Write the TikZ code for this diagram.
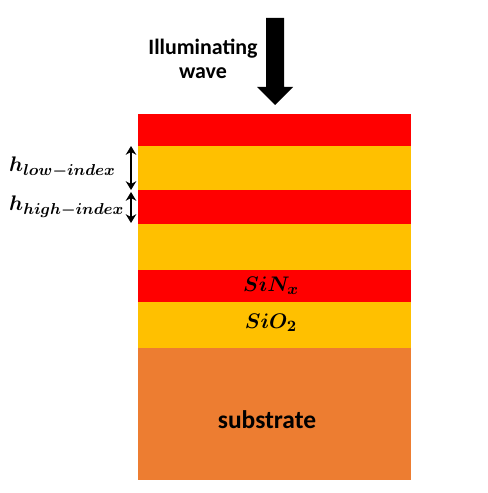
\documentclass[tikz,border=0pt]{standalone}
\usepackage{amsmath,bm}
\usepackage{fontspec}
\setmainfont{Carlito}
\usetikzlibrary{arrows.meta}
\definecolor{layerred}{HTML}{FF0000}
\definecolor{layeryellow}{HTML}{FFC000}
\definecolor{substrate}{HTML}{ED7D31}
\begin{document}
\begin{tikzpicture}[x=0.02cm,y=-0.02cm,>=Stealth,
  thick arrow/.style={<->,line width=1.2pt,>={Stealth[length=5pt,width=6pt]}},
  lbl/.style={font=\bfseries\fontsize{12.5}{14}\selectfont,align=center}]
\useasboundingbox (0,0) rectangle (487,493);
% stack of layers
\fill[layerred]    (138,114) rectangle (411,146);
\fill[layeryellow] (138,146) rectangle (411,190);
\fill[layerred]    (138,190) rectangle (411,224);
\fill[layeryellow] (138,224) rectangle (411,270);
\fill[layerred]    (138,270) rectangle (411,302);
\fill[layeryellow] (138,302) rectangle (411,348);
\fill[substrate]   (138,348) rectangle (411,480);
% incident wave
\fill[black] (266,18) -- (284,18) -- (284,87) -- (293,87) -- (275,105)
             -- (257,87) -- (266,87) -- cycle;
\node[lbl] (wave) at (203,59) {Illuminating\\wave};
% thickness markers
\coordinate (lowtop) at (131,146);
\coordinate (lowbot) at (131,190);
\coordinate (hightop) at (131,192);
\coordinate (highbot) at (131,223);
\draw[thick arrow] (lowtop) -- (lowbot);
\draw[thick arrow] (hightop) -- (highbot);
\node[anchor=west,font=\fontsize{13}{15}\selectfont] (hlow) at (3,167) {$\bm{h_{low-index}}$};
\node[anchor=west,font=\fontsize{13}{15}\selectfont] (hhigh) at (3,207) {$\bm{h_{high-index}}$};
% layer names
\node[font=\fontsize{12.5}{15}\selectfont] (sin) at (271,286) {$\bm{SiN_x}$};
\node[font=\fontsize{12.5}{15}\selectfont] (sio) at (271,323) {$\bm{SiO_2}$};
\node[lbl,font=\bfseries\fontsize{14.5}{17}\selectfont] (sub) at (267,420) {substrate};
\end{tikzpicture}
\end{document}
